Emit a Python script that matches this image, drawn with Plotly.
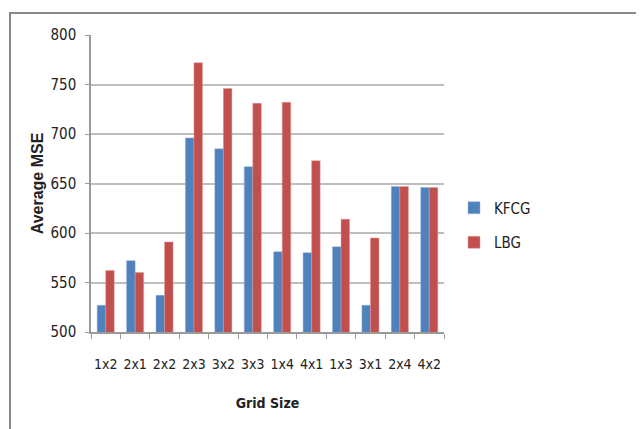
import plotly.graph_objects as go

categories = ["1x2", "2x1", "2x2", "2x3", "3x2", "3x3", "1x4", "4x1", "1x3", "3x1", "2x4", "4x2"]
kfcg = [527, 572, 537, 696, 685, 667, 581, 580, 586, 527, 647, 646]
lbg = [562, 560, 591, 772, 746, 731, 732, 673, 614, 595, 647, 646]
y_ticks = [500, 550, 600, 650, 700, 750, 800]

# page body has an 8px margin; layout values are in figure pixels
W, H = 644, 429
L, R, T, B = 83, 436, 27, 324

def px_x(p):
    return (p - L) / (R - L)

def px_y(p):
    return (B - p) / (B - T)

font_fam = "Liberation Sans Narrow, DejaVu Sans Condensed, Liberation Sans, sans-serif"

fig = go.Figure()
fig.add_trace(go.Bar(name="KFCG", x=categories, y=kfcg, marker=dict(color="#4F81BD", line=dict(color="#8FAFD8", width=0.5)), legendgroup="a"))
fig.add_trace(go.Bar(name="LBG", x=categories, y=lbg, marker=dict(color="#C0504D", line=dict(color="#E29A98", width=0.5)), legendgroup="b"))

fig.update_layout(
    width=W, height=H,
    margin=dict(l=L, r=W - R, t=T, b=H - B, autoexpand=False),
    paper_bgcolor="white", plot_bgcolor="white",
    barmode="group", bargap=0.42, bargroupgap=0,
    font=dict(family=font_fam, size=14, color="#222"),
    legend=dict(x=px_x(446), y=px_y(217), xanchor="left", yanchor="middle",
                tracegroupgap=12, traceorder="grouped",
                font=dict(family=font_fam, size=15, color="#222"), bgcolor="rgba(0,0,0,0)"),
    xaxis=dict(type="category", showgrid=False, showline=True, linecolor="#9a9a9a", linewidth=1.5,
               ticks="outside", tickson="boundaries", ticklen=5, tickcolor="#9a9a9a", tickwidth=1,
               tickangle=0, automargin=False,
               ticklabelstandoff=18, tickfont=dict(size=14),
               title=dict(text="<b>Grid Size</b>", font=dict(size=14, family=font_fam), standoff=28)),
    yaxis=dict(range=[500, 800], tickvals=y_ticks, showgrid=True, gridcolor="#BEBEBE", gridwidth=1.5,
               showline=True, linecolor="#9a9a9a", linewidth=1.5, ticks="outside", ticklen=4,
               tickcolor="#9a9a9a", zeroline=False, ticklabelstandoff=6, tickfont=dict(size=15),
               automargin=False,
               title=dict(text="<b>Average MSE</b>", font=dict(size=16, family="Liberation Sans, Arial, sans-serif"), standoff=3)),
)

fig.add_shape(type="rect", xref="paper", yref="paper",
              x0=px_x(2), x1=px_x(660), y0=px_y(445), y1=px_y(5),
              line=dict(color="#8a8a8a", width=2), fillcolor="rgba(0,0,0,0)", layer="below")

fig.write_html("out.html")
